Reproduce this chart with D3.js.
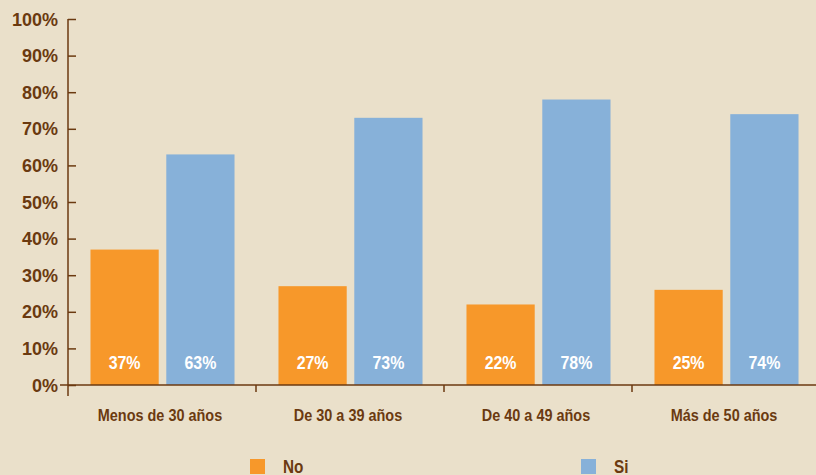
<!DOCTYPE html>
<html><head><meta charset="utf-8">
<script src="https://cdn.jsdelivr.net/npm/d3@7"></script>
<style>
html,body{margin:0;padding:0;background:#eae0ca;}
svg{display:block;}
</style></head>
<body>
<svg id="chart" width="816" height="475"></svg>
<script>
const categories = ["Menos de 30 años", "De 30 a 39 años", "De 40 a 49 años", "Más de 50 años"];
const seriesNames = ["No", "Si"];
const noValues = [37, 27, 22, 26];
const siValues = [63, 73, 78, 74];
const noLabels = ["37%", "27%", "22%", "25%"];
const siLabels = ["63%", "73%", "78%", "74%"];
const yTicks = [0, 10, 20, 30, 40, 50, 60, 70, 80, 90, 100];
const colors = ["#f7982a", "#87b1d9"];
const textColor = "#6b3a10";
const condFont = "'Liberation Sans', Arial, sans-serif";

const svg = d3.select("#chart");
const x0 = 68, x1 = 820, yTop = 19, yBot = 385;

const x = d3.scaleBand().domain(categories).range([x0, x1]).paddingInner(0).paddingOuter(0);
const xs = d3.scaleBand().domain(seriesNames).range([0, x.bandwidth()]).paddingInner(0.1).paddingOuter(0.29);
const y = d3.scaleLinear().domain([0, 100]).range([yBot, yTop]);

const rows = categories.map((c, i) => ({
  cat: c,
  vals: [
    {s: "No", v: noValues[i], label: noLabels[i]},
    {s: "Si", v: siValues[i], label: siLabels[i]}
  ]
}));

// bars
const g = svg.append("g");
const grp = g.selectAll("g.grp").data(rows).join("g")
  .attr("transform", d => `translate(${x(d.cat) + 0.5},0)`);
grp.selectAll("rect").data(d => d.vals).join("rect")
  .attr("x", d => xs(d.s))
  .attr("width", xs.bandwidth())
  .attr("y", d => y(d.v))
  .attr("height", d => y(0) - y(d.v))
  .attr("fill", (d, i) => colors[i]);
grp.selectAll("text").data(d => d.vals).join("text")
  .attr("transform", d => `translate(${xs(d.s) + xs.bandwidth() / 2},369) scale(0.84,1)`)
  .attr("text-anchor", "middle")
  .attr("fill", "#ffffff")
  .attr("font-family", condFont)
  .attr("font-weight", "bold")
  .attr("font-size", "19px")
  .text(d => d.label);

// y axis
const yAxis = d3.axisRight(y).tickValues(yTicks).tickSize(8).tickFormat("");
const ya = svg.append("g").attr("transform", `translate(${x0},0)`).call(yAxis);
ya.select(".domain").remove();
ya.selectAll(".tick line").attr("stroke", textColor).attr("stroke-width", 1.5);
svg.append("line").attr("x1", x0).attr("x2", x0).attr("y1", yTop).attr("y2", 396)
  .attr("stroke", textColor).attr("stroke-width", 1.5);
svg.append("g").selectAll("text").data(yTicks).join("text")
  .attr("x", 58).attr("y", d => y(d) + 6.5)
  .attr("text-anchor", "end")
  .attr("fill", textColor)
  .attr("font-family", "'Liberation Sans', Arial, sans-serif")
  .attr("font-weight", "bold")
  .attr("font-size", "18px")
  .text(d => d + "%");

// x axis
svg.append("line").attr("x1", 60).attr("x2", 816).attr("y1", yBot).attr("y2", yBot)
  .attr("stroke", textColor).attr("stroke-width", 1.5);
const xa = svg.append("g").attr("transform", `translate(0,${yBot})`)
  .call(d3.axisBottom(x).tickSize(0).tickFormat(""));
xa.select(".domain").remove();
svg.append("g").selectAll("line").data(categories.slice(1)).join("line")
  .attr("x1", d => x(d)).attr("x2", d => x(d))
  .attr("y1", yBot).attr("y2", 392)
  .attr("stroke", textColor).attr("stroke-width", 1.5);
svg.append("g").selectAll("text").data(categories).join("text")
  .attr("transform", d => `translate(${x(d) + x.bandwidth() / 2 - 2},421) scale(0.85,1)`)
  .attr("text-anchor", "middle")
  .attr("fill", textColor)
  .attr("font-family", condFont)
  .attr("font-weight", "bold")
  .attr("font-size", "17px")
  .text(d => d);

// legend
const legX = [250, 581];
const leg = svg.append("g").selectAll("g").data(seriesNames).join("g")
  .attr("transform", (d, i) => `translate(${legX[i]},459)`);
leg.append("rect").attr("width", 15).attr("height", 15).attr("fill", (d, i) => colors[i]);
leg.append("text").attr("transform", "translate(33,14) scale(0.85,1)")
  .attr("fill", textColor)
  .attr("font-family", condFont)
  .attr("font-weight", "bold")
  .attr("font-size", "18px")
  .text(d => d);
</script>
</body></html>
